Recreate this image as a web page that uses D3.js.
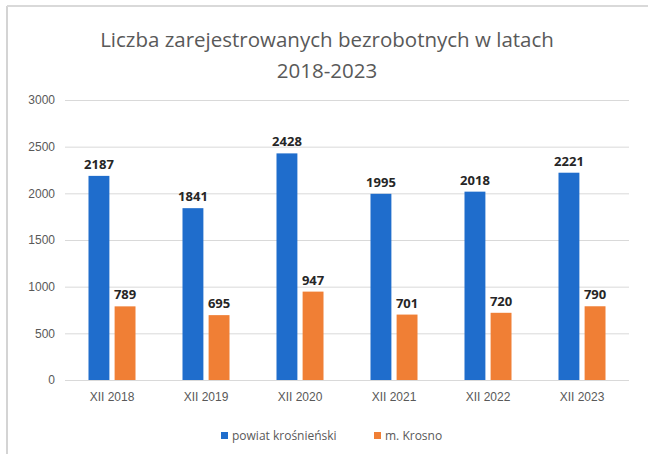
<!DOCTYPE html>
<html>
<head>
<meta charset="utf-8">
<script src="https://cdn.jsdelivr.net/npm/d3@7"></script>
<style>
  body { margin: 0; background: #fff; }
  svg { display: block; font-family: "Open Sans", "Noto Sans", sans-serif; }
</style>
</head>
<body>
<svg id="chart"></svg>
<script>
const years = ["XII 2018", "XII 2019", "XII 2020", "XII 2021", "XII 2022", "XII 2023"];
const seriesNames = ["powiat krośnieński", "m. Krosno"];
const powiat = [2187, 1841, 2428, 1995, 2018, 2221];
const krosno = [789, 695, 947, 701, 720, 790];
const yTicks = [0, 500, 1000, 1500, 2000, 2500, 3000];
const colors = ["#1f6dcc", "#f07f35"];

const W = 648, H = 454;
const margin = { top: 100, right: 19, bottom: 74, left: 65 };

const svg = d3.select("#chart").attr("width", W).attr("height", H);

// faint frame on left and top, as in the source image
svg.append("line").attr("x1", 7).attr("x2", 7).attr("y1", 6).attr("y2", H)
  .attr("stroke", "#d4d4d4").attr("stroke-width", 2);
svg.append("line").attr("x1", 7).attr("x2", W).attr("y1", 6).attr("y2", 6)
  .attr("stroke", "#d9d9d9").attr("stroke-width", 2);

const x0 = d3.scaleBand()
  .domain(years)
  .range([margin.left, W - margin.right])
  .paddingInner(0.5)
  .paddingOuter(0.25);

const x1 = d3.scaleBand()
  .domain(seriesNames)
  .range([0, x0.bandwidth()])
  .paddingInner(0.2);

const y = d3.scaleLinear()
  .domain([0, 3000])
  .range([H - margin.bottom, margin.top]);

// grid + y labels
const yAxis = svg.append("g")
  .attr("transform", `translate(${margin.left},0)`)
  .call(d3.axisLeft(y).tickValues(yTicks).tickFormat(d3.format("d"))
    .tickSize(-(W - margin.left - margin.right)).tickPadding(10));
yAxis.select(".domain").remove();
yAxis.selectAll(".tick line").attr("stroke", "#d9d9d9");
yAxis.selectAll(".tick text").attr("fill", "#595959").style("font-size", "12px");

// x labels
const xAxis = svg.append("g")
  .attr("transform", `translate(0,${H - margin.bottom})`)
  .call(d3.axisBottom(x0).tickSize(0).tickPadding(12));
xAxis.select(".domain").remove();
xAxis.selectAll(".tick text").attr("fill", "#595959").style("font-size", "12px");

const table = years.map((yr, i) => ({ year: yr, values: [powiat[i], krosno[i]] }));

const groups = svg.selectAll(".grp")
  .data(table)
  .enter().append("g")
  .attr("class", "grp")
  .attr("transform", d => `translate(${x0(d.year)},0)`);

groups.selectAll("rect")
  .data(d => d.values.map((v, j) => ({ name: seriesNames[j], v, j })))
  .enter().append("rect")
  .attr("x", d => x1(d.name))
  .attr("width", x1.bandwidth())
  .attr("y", d => y(d.v))
  .attr("height", d => y(0) - y(d.v))
  .attr("fill", d => colors[d.j]);

groups.selectAll("text.val")
  .data(d => d.values.map((v, j) => ({ name: seriesNames[j], v, j })))
  .enter().append("text")
  .attr("class", "val")
  .attr("x", d => x1(d.name) + x1.bandwidth() / 2)
  .attr("y", d => y(d.v) - 7)
  .attr("text-anchor", "middle")
  .attr("fill", "#262626")
  .style("font-size", "13px")
  .style("font-weight", "bold")
  .text(d => d.v);

// title
svg.append("text")
  .attr("x", 327).attr("y", 47)
  .attr("text-anchor", "middle")
  .attr("fill", "#595959")
  .style("font-size", "20.5px")
  .text("Liczba zarejestrowanych bezrobotnych w latach");
svg.append("text")
  .attr("x", 327).attr("y", 78)
  .attr("text-anchor", "middle")
  .attr("fill", "#595959")
  .style("font-size", "20.5px")
  .text("2018-2023");

// legend
const legend = svg.append("g").attr("transform", "translate(221,436)");
const legX = [0, 153];
seriesNames.forEach((n, i) => {
  const g = legend.append("g").attr("transform", `translate(${legX[i]},0)`);
  g.append("rect").attr("x", 0).attr("y", -4).attr("width", 7).attr("height", 7).attr("fill", colors[i]);
  g.append("text").attr("x", 11).attr("y", 4)
    .attr("fill", "#595959").style("font-size", "12px").text(n);
});
</script>
</body>
</html>
